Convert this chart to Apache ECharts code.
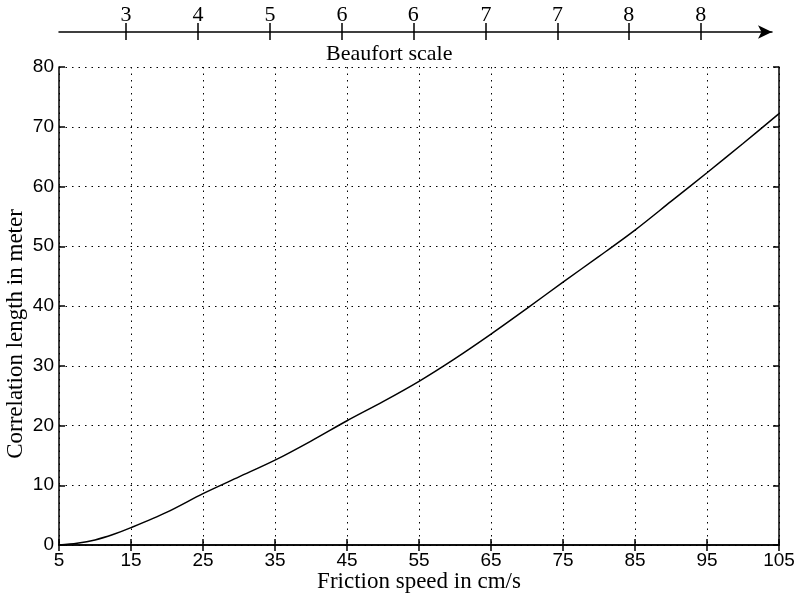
<!DOCTYPE html>
<html>
<head>
<meta charset="utf-8">
<script src="https://cdn.jsdelivr.net/npm/echarts@6/dist/echarts.min.js"></script>
<style>
  html, body { margin: 0; padding: 0; background: #fff; }
  #chart { width: 798px; height: 600px; }
</style>
</head>
<body>
<div id="chart"></div>
<script>
// friction speed (cm/s) vs correlation length (m)
var speeds = [5, 7.5, 10, 12.5, 15, 20, 25, 30, 35, 40, 45, 50, 55, 60, 65, 70, 75, 80, 85, 90, 95, 100, 105]
var lengths = [0, 0.3, 0.85, 1.75, 2.9, 5.5, 8.6, 11.4, 14.2, 17.4, 20.8, 24.0, 27.4, 31.2, 35.3, 39.6, 44.0, 48.3, 52.7, 57.5, 62.3, 67.2, 72.2]

// Beaufort scale on top: position in friction speed and label
var beaufortSpeeds = [14.3, 24.3, 34.3, 44.3, 54.2, 64.3, 74.2, 84.1, 94.1]
var beaufortLabels = ['3', '4', '5', '6', '6', '7', '7', '8', '8']

var sans = 'Liberation Sans'
var serif = 'Liberation Serif'

var curve = speeds.map(function (s, i) { return [s, lengths[i]] })

var dotted = { show: true, lineStyle: { color: '#000', width: 1, type: [1.5, 5] } }
var frame = { show: true, lineStyle: { color: '#000', width: 1.5 } }
var inTick = { inside: true, length: 6, lineStyle: { color: '#000', width: 1.5 } }

var chart = echarts.init(document.getElementById('chart'))
chart.setOption({
  animation: false,
  backgroundColor: '#fff',
  title: {
    text: 'Beaufort scale',
    left: 326,
    top: 43,
    textStyle: { fontFamily: serif, fontSize: 22, fontWeight: 'normal', color: '#000' },
    padding: 0
  },
  grid: [
    { left: 59, right: 19, top: 67, bottom: 55, containLabel: false, outerBoundsMode: 'none' },
    { left: 59, right: 26, top: 32, height: 0, containLabel: false, outerBoundsMode: 'none' }
  ],
  xAxis: [
    {
      type: 'value', gridIndex: 0, position: 'bottom',
      min: 5, max: 105, interval: 10,
      name: 'Friction speed in cm/s',
      nameLocation: 'middle', nameGap: 25, nameMoveOverlap: false,
      nameTextStyle: { fontFamily: serif, fontSize: 23, color: '#000' },
      axisLine: frame,
      axisTick: inTick,
      axisLabel: { fontFamily: sans, fontSize: 19, color: '#000', margin: 6 },
      splitLine: dotted
    },
    {
      type: 'value', gridIndex: 0, position: 'top',
      min: 5, max: 105, interval: 10,
      axisLine: frame,
      axisTick: inTick,
      axisLabel: { show: false },
      splitLine: { show: false }
    },
    {
      type: 'value', gridIndex: 1, position: 'top',
      min: 5, max: 104,
      axisLine: { show: true, symbol: ['none', 'arrow'], symbolSize: [10, 14], lineStyle: { color: '#000', width: 1.5 } },
      axisTick: { show: true, customValues: beaufortSpeeds, length: 9, lineStyle: { color: '#000', width: 1.5 } },
      axisLabel: {
        show: true, customValues: beaufortSpeeds, margin: 6,
        fontFamily: serif, fontSize: 22, color: '#000',
        formatter: function (v) { return beaufortLabels[beaufortSpeeds.indexOf(v)] }
      },
      splitLine: { show: false }
    },
    {
      type: 'value', gridIndex: 1, position: 'bottom',
      min: 5, max: 104,
      axisLine: { show: false },
      axisTick: { show: true, customValues: beaufortSpeeds, length: 8, lineStyle: { color: '#000', width: 1.5 } },
      axisLabel: { show: false },
      splitLine: { show: false }
    }
  ],
  yAxis: [
    {
      type: 'value', gridIndex: 0, position: 'left',
      min: 0, max: 80, interval: 10,
      name: 'Correlation length in meter',
      nameLocation: 'middle', nameGap: 32, nameMoveOverlap: false,
      nameTextStyle: { fontFamily: serif, fontSize: 23, color: '#000', padding: [0, 56, 0, 0] },
      axisLine: frame,
      axisTick: inTick,
      axisLabel: { fontFamily: sans, fontSize: 19, color: '#000', margin: 5 },
      splitLine: dotted
    },
    {
      type: 'value', gridIndex: 0, position: 'right',
      min: 0, max: 80, interval: 10,
      axisLine: frame,
      axisTick: inTick,
      axisLabel: { show: false },
      splitLine: { show: false }
    },
    { type: 'value', gridIndex: 1, show: false, min: 0, max: 1 }
  ],
  series: [
    {
      type: 'line',
      xAxisIndex: 0,
      yAxisIndex: 0,
      data: curve,
      smooth: 0.3,
      showSymbol: false,
      lineStyle: { color: '#000', width: 1.5 }
    }
  ]
})
</script>
</body>
</html>
